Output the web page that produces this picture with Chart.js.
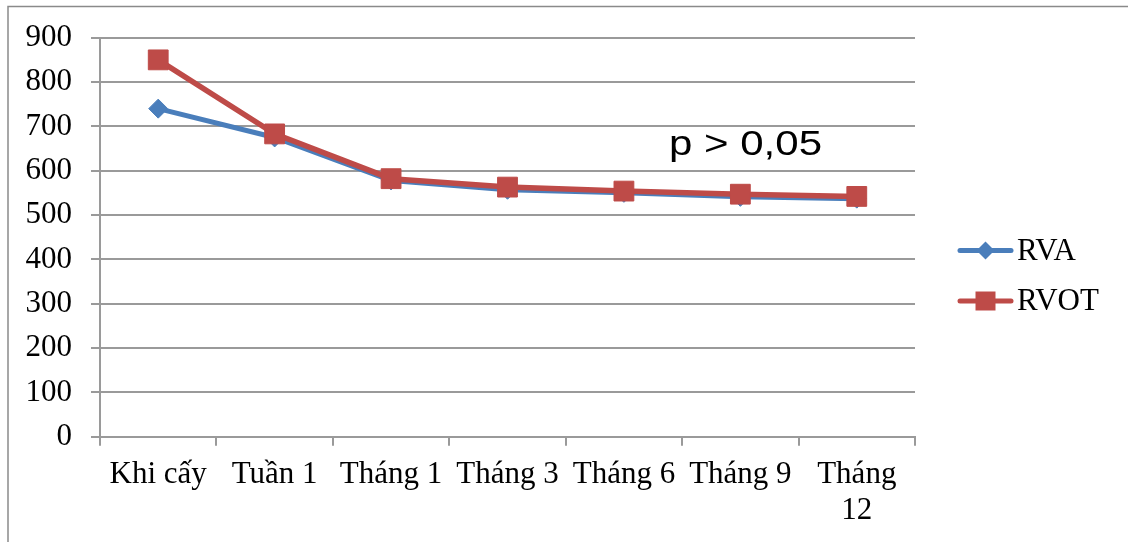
<!DOCTYPE html>
<html>
<head>
<meta charset="utf-8">
<script src="https://cdn.jsdelivr.net/npm/chart.js@4/dist/chart.umd.min.js"></script>
<style>
  html, body { margin: 0; padding: 0; background: #ffffff; }
  #wrap { position: relative; width: 1128px; height: 542px; }
</style>
</head>
<body>
<div id="wrap"><canvas id="c" width="1128" height="542"></canvas></div>
<script>
// Time points of the follow-up
const categories = ['Khi cấy', 'Tuần 1', 'Tháng 1', 'Tháng 3', 'Tháng 6', 'Tháng 9', ['Tháng', '12']];
// Series values
const rvaValues  = [740, 675, 578, 557, 550, 541, 537];
const rvotValues = [850, 683, 582, 563, 554, 547, 542];
// Y-axis range and step
const yTicks = { min: 0, max: 900, step: 100 };
const annotationText = 'p > 0,05';

const GRID = '#9a9a9a';
const SERIF = "'Liberation Serif', 'Times New Roman', serif";

// Outer frame, legend and p-value note
const decorations = {
  id: 'decorations',
  beforeDraw(chart) {
    const ctx = chart.ctx;
    ctx.save();
    ctx.strokeStyle = '#8a8a8a';
    ctx.lineWidth = 1.5;
    ctx.beginPath();
    ctx.moveTo(8, chart.height + 5);
    ctx.lineTo(8, 6.5);
    ctx.lineTo(chart.width + 5, 6.5);
    ctx.stroke();
    ctx.restore();
  },
  afterDraw(chart) {
    const ctx = chart.ctx;
    ctx.save();
    // legend
    const rows = [250.5, 301];
    chart.data.datasets.forEach((ds, i) => {
      const y = rows[i];
      ctx.strokeStyle = ds.borderColor;
      ctx.lineWidth = 5;
      ctx.lineCap = 'round';
      ctx.beginPath();
      ctx.moveTo(960, y);
      ctx.lineTo(1011, y);
      ctx.stroke();
      ctx.fillStyle = ds.backgroundColor;
      ctx.beginPath();
      if (ds.pointStyle === 'rectRot') {
        const r = 9;
        ctx.moveTo(985.5 - r, y);
        ctx.lineTo(985.5, y - r);
        ctx.lineTo(985.5 + r, y);
        ctx.lineTo(985.5, y + r);
        ctx.closePath();
      } else {
        ctx.rect(975.5, y - 9.5, 20, 19);
      }
      ctx.fill();
      ctx.fillStyle = '#000';
      ctx.font = '31px ' + SERIF;
      ctx.textAlign = 'left';
      ctx.textBaseline = 'middle';
      ctx.fillText(ds.label, 1017, y + 1);
    });
    // p-value note
    ctx.font = "35px 'Liberation Sans', Arial, sans-serif";
    ctx.textBaseline = 'alphabetic';
    const w = ctx.measureText(annotationText).width;
    ctx.translate(669, 155);
    ctx.scale(153 / w, 1);
    ctx.fillText(annotationText, 0, 0);
    ctx.restore();
  }
};

new Chart(document.getElementById('c'), {
  type: 'line',
  data: {
    labels: categories,
    datasets: [
      {
        label: 'RVA',
        data: rvaValues,
        borderColor: '#4a7ebb',
        backgroundColor: '#4a7ebb',
        borderWidth: 5,
        pointStyle: 'rectRot',
        pointRadius: 9.5,
        pointBorderWidth: 1,
        tension: 0,
        order: 1
      },
      {
        label: 'RVOT',
        data: rvotValues,
        borderColor: '#be4b48',
        backgroundColor: '#be4b48',
        borderWidth: 5.5,
        pointStyle: 'rect',
        pointRadius: 14,
        pointBorderWidth: 1,
        tension: 0,
        order: 0
      }
    ]
  },
  options: {
    responsive: false,
    animation: false,
    devicePixelRatio: 1,
    layout: { padding: { left: 0, top: 37.7, right: 213, bottom: 0 } },
    plugins: {
      legend: { display: false },
      tooltip: { enabled: false }
    },
    scales: {
      x: {
        offset: true,
        afterFit(scale) { scale.height = 105.3; },
        grid: {
          offset: true,
          drawOnChartArea: false,
          drawTicks: true,
          tickLength: 9,
          color: GRID,
          lineWidth: 2
        },
        border: { display: true, color: GRID, width: 2 },
        ticks: {
          autoSkip: false,
          maxRotation: 0,
          minRotation: 0,
          padding: 11,
          color: '#000',
          font: { family: SERIF, size: 31, lineHeight: 1.17 }
        }
      },
      y: {
        min: yTicks.min,
        max: yTicks.max,
        afterFit(scale) { scale.width = 100; },
        grid: {
          color: GRID,
          lineWidth: 2,
          tickLength: 9,
          drawTicks: true
        },
        border: { display: true, color: GRID, width: 2 },
        ticks: {
          stepSize: yTicks.step,
          padding: 19,
          color: '#000',
          font: { family: SERIF, size: 31 }
        }
      }
    }
  },
  plugins: [decorations]
});
</script>
</body>
</html>
